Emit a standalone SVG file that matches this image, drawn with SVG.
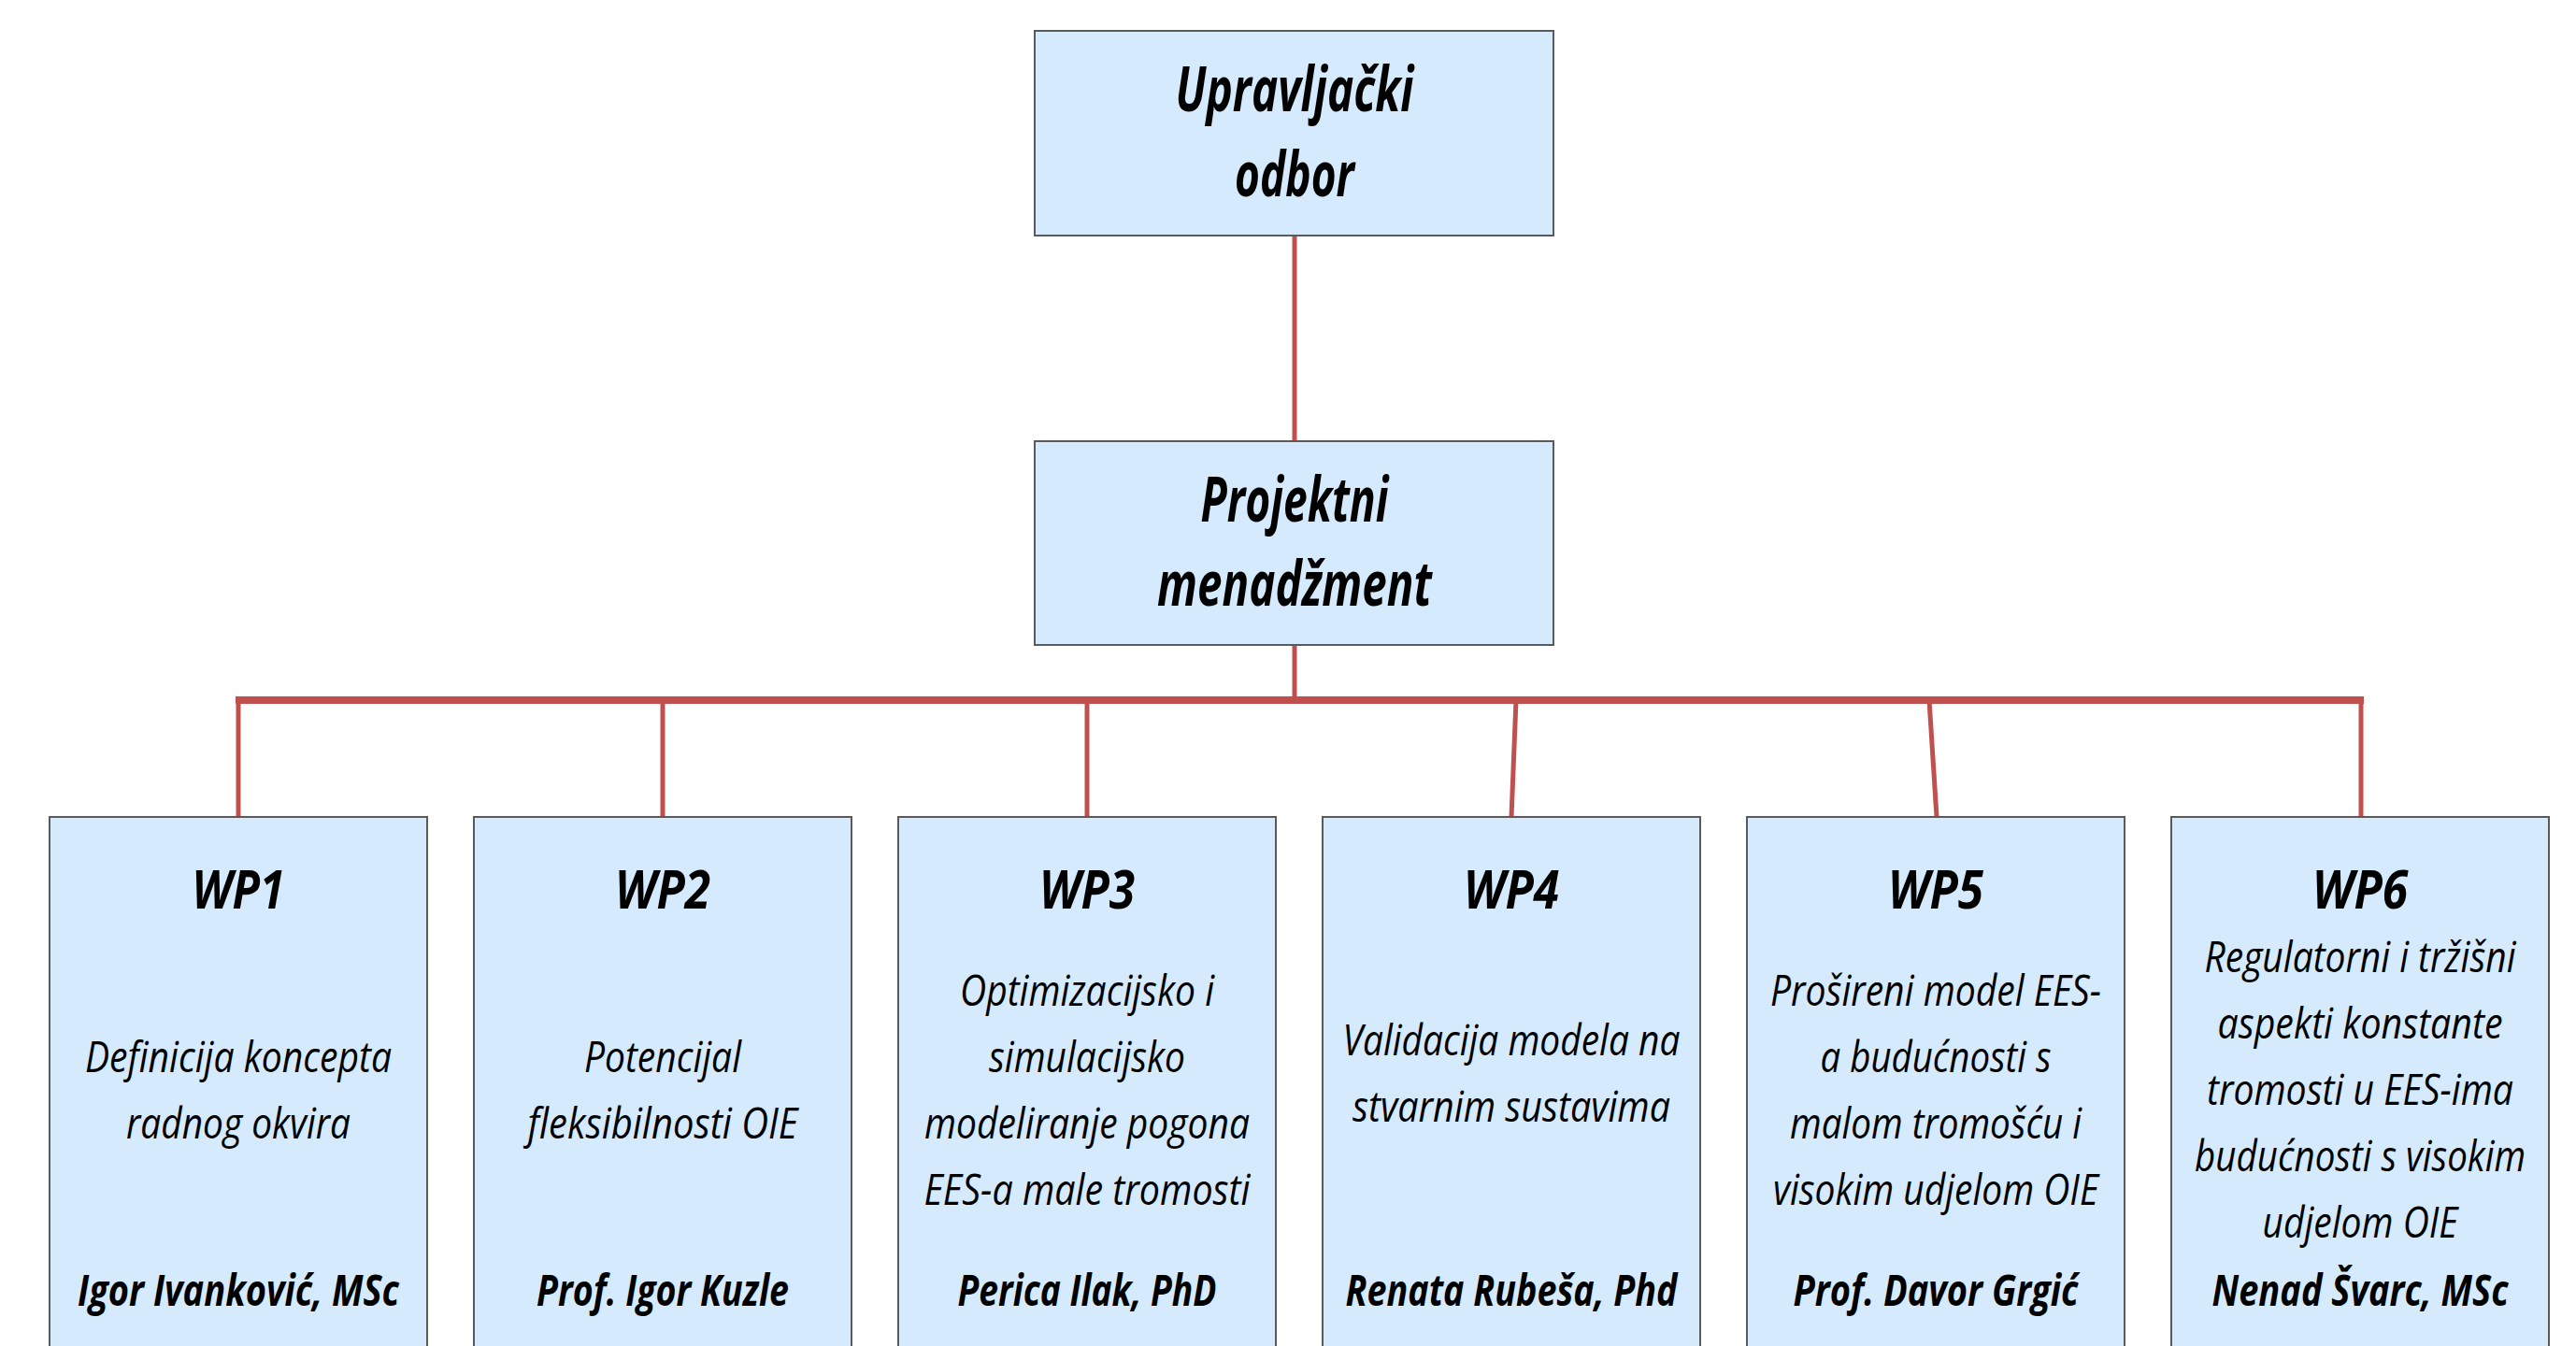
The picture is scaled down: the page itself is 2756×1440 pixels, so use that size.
<svg xmlns="http://www.w3.org/2000/svg" width="2756" height="1440" viewBox="0 0 2756 1440">
<style>
.box{fill:#D5EAFC;stroke:#5a5a5a;stroke-width:2}
.c{fill:none;stroke:#C0504D;stroke-width:5}
.bus{fill:none;stroke:#C0504D;stroke-width:8}
text{font-family:"Open Sans","Liberation Sans",sans-serif;font-style:italic;fill:#000;text-anchor:middle}
.h{font-weight:700;font-size:66px}
.t{font-weight:700;font-size:58px}
.d{font-weight:400;font-size:46px}
.n{font-weight:700;font-size:46px}
</style>
<rect width="2756" height="1440" fill="#fff"/>
<g id="connectors">
<line class="c" x1="1385" y1="252" x2="1385" y2="472"/>
<line class="c" x1="1385" y1="690" x2="1385" y2="749"/>
<line class="bus" x1="252" y1="749" x2="2529" y2="749"/>
<line class="c" x1="255" y1="749" x2="255" y2="874"/>
<line class="c" x1="709" y1="749" x2="709" y2="874"/>
<line class="c" x1="1163" y1="749" x2="1163" y2="874"/>
<line class="c" x1="1622" y1="749" x2="1617" y2="874"/>
<line class="c" x1="2064" y1="749" x2="2072" y2="874"/>
<line class="c" x1="2526" y1="749" x2="2526" y2="874"/>
</g>
<g id="upravljacki">
<rect class="box" x="1107" y="33" width="555" height="219"/>
<text class="h" x="1385" y="119" textLength="255" lengthAdjust="spacingAndGlyphs">Upravljački</text>
<text class="h" x="1385" y="210" textLength="128" lengthAdjust="spacingAndGlyphs">odbor</text>
</g>
<g id="projektni">
<rect class="box" x="1107" y="472" width="555" height="218"/>
<text class="h" x="1385" y="558" textLength="201" lengthAdjust="spacingAndGlyphs">Projektni</text>
<text class="h" x="1385" y="648" textLength="294" lengthAdjust="spacingAndGlyphs">menadžment</text>
</g>
<g id="wp1">
<rect class="box" x="53" y="874" width="404" height="600"/>
<text class="t" x="255" y="972" textLength="99" lengthAdjust="spacingAndGlyphs">WP1</text>
<text class="d" x="255" y="1147" textLength="328" lengthAdjust="spacingAndGlyphs">Definicija koncepta</text>
<text class="d" x="255" y="1218" textLength="240" lengthAdjust="spacingAndGlyphs">radnog okvira</text>
<text class="n" x="255" y="1397" textLength="344" lengthAdjust="spacingAndGlyphs">Igor Ivanković, MSc</text>
</g>
<g id="wp2">
<rect class="box" x="507" y="874" width="404" height="600"/>
<text class="t" x="709" y="972" textLength="102" lengthAdjust="spacingAndGlyphs">WP2</text>
<text class="d" x="709" y="1147" textLength="168" lengthAdjust="spacingAndGlyphs">Potencijal</text>
<text class="d" x="709" y="1218" textLength="289" lengthAdjust="spacingAndGlyphs">fleksibilnosti OIE</text>
<text class="n" x="709" y="1397" textLength="270" lengthAdjust="spacingAndGlyphs">Prof. Igor Kuzle</text>
</g>
<g id="wp3">
<rect class="box" x="961" y="874" width="404" height="600"/>
<text class="t" x="1163" y="972" textLength="102" lengthAdjust="spacingAndGlyphs">WP3</text>
<text class="d" x="1163" y="1076" textLength="272" lengthAdjust="spacingAndGlyphs">Optimizacijsko i</text>
<text class="d" x="1163" y="1147" textLength="210" lengthAdjust="spacingAndGlyphs">simulacijsko</text>
<text class="d" x="1163" y="1218" textLength="348" lengthAdjust="spacingAndGlyphs">modeliranje pogona</text>
<text class="d" x="1163" y="1289" textLength="349" lengthAdjust="spacingAndGlyphs">EES-a male tromosti</text>
<text class="n" x="1163" y="1397" textLength="277" lengthAdjust="spacingAndGlyphs">Perica Ilak, PhD</text>
</g>
<g id="wp4">
<rect class="box" x="1415" y="874" width="404" height="600"/>
<text class="t" x="1617" y="972" textLength="102" lengthAdjust="spacingAndGlyphs">WP4</text>
<text class="d" x="1617" y="1129" textLength="361" lengthAdjust="spacingAndGlyphs">Validacija modela na</text>
<text class="d" x="1617" y="1200" textLength="340" lengthAdjust="spacingAndGlyphs">stvarnim sustavima</text>
<text class="n" x="1617" y="1397" textLength="355" lengthAdjust="spacingAndGlyphs">Renata Rubeša, Phd</text>
</g>
<g id="wp5">
<rect class="box" x="1869" y="874" width="404" height="600"/>
<text class="t" x="2071" y="972" textLength="102" lengthAdjust="spacingAndGlyphs">WP5</text>
<text class="d" x="2071" y="1076" textLength="354" lengthAdjust="spacingAndGlyphs">Prošireni model EES-</text>
<text class="d" x="2071" y="1147" textLength="247" lengthAdjust="spacingAndGlyphs">a budućnosti s</text>
<text class="d" x="2071" y="1218" textLength="312" lengthAdjust="spacingAndGlyphs">malom tromošću i</text>
<text class="d" x="2071" y="1289" textLength="348" lengthAdjust="spacingAndGlyphs">visokim udjelom OIE</text>
<text class="n" x="2071" y="1397" textLength="305" lengthAdjust="spacingAndGlyphs">Prof. Davor Grgić</text>
</g>
<g id="wp6">
<rect class="box" x="2323" y="874" width="404" height="600"/>
<text class="t" x="2525" y="972" textLength="102" lengthAdjust="spacingAndGlyphs">WP6</text>
<text class="d" x="2525" y="1040" textLength="333" lengthAdjust="spacingAndGlyphs">Regulatorni i tržišni</text>
<text class="d" x="2525" y="1111" textLength="305" lengthAdjust="spacingAndGlyphs">aspekti konstante</text>
<text class="d" x="2525" y="1182" textLength="328" lengthAdjust="spacingAndGlyphs">tromosti u EES-ima</text>
<text class="d" x="2525" y="1253" textLength="354" lengthAdjust="spacingAndGlyphs">budućnosti s visokim</text>
<text class="d" x="2525" y="1324" textLength="209" lengthAdjust="spacingAndGlyphs">udjelom OIE</text>
<text class="n" x="2525" y="1397" textLength="317" lengthAdjust="spacingAndGlyphs">Nenad Švarc, MSc</text>
</g>
</svg>
